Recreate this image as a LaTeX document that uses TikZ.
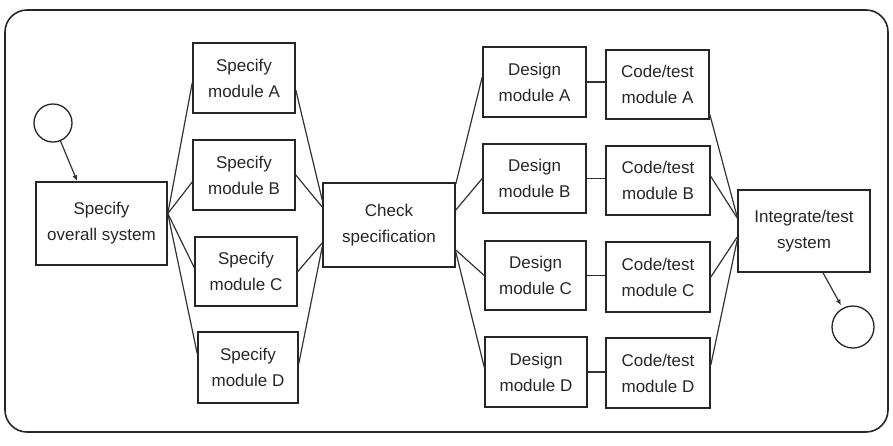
\documentclass[tikz,border=0pt]{standalone}
\usepackage{fontspec}
\setmainfont{Liberation Sans}
\usetikzlibrary{arrows.meta}
\begin{document}
\begin{tikzpicture}[x=1pt,y=-1pt,
  every node/.style={font=\fontsize{17}{26}\selectfont, text=black!85},
  task/.style={draw=black!85, line width=1.6pt, rectangle, align=center, inner sep=0pt},
  terminal/.style={draw=black!85, line width=1.3pt, circle, inner sep=0pt},
  link/.style={draw=black!80, line width=1.2pt},
  flow/.style={link, -{Latex[length=6pt,width=5pt]}}
]
\useasboundingbox (0,0) rectangle (893,445);
% outer frame
\draw[black!85, line width=1.6pt, rounded corners=22pt] (5,10) rectangle (888,432);

% start and end states
\node[terminal, minimum size=38pt] (start) at (53,123) {};
\node[terminal, minimum size=42pt] (stop) at (853,327) {};

% specification stage
\node[task, minimum width=131pt, minimum height=83pt] (ov) at (101.5,223.5) {Specify\\overall system};
\node[task, minimum width=102pt, minimum height=70pt] (sA) at (244,78) {Specify\\module A};
\node[task, minimum width=102pt, minimum height=70pt] (sB) at (244,175) {Specify\\module B};
\node[task, minimum width=102pt, minimum height=69pt] (sC) at (246,271.5) {Specify\\module C};
\node[task, minimum width=100pt, minimum height=71pt] (sD) at (248,367.5) {Specify\\module D};
\node[task, minimum width=132pt, minimum height=84pt] (chk) at (389,225) {Check\\specification};

% design and coding stage
\node[task, minimum width=103pt, minimum height=70pt] (dA) at (534.5,82) {Design\\module A};
\node[task, minimum width=103pt, minimum height=69pt] (dB) at (534.5,178.5) {Design\\module B};
\node[task, minimum width=101pt, minimum height=69pt] (dC) at (535.5,275.5) {Design\\module C};
\node[task, minimum width=102pt, minimum height=70pt] (dD) at (536,372) {Design\\module D};
\node[task, minimum width=103pt, minimum height=69pt] (cA) at (657.5,84.5) {Code/test\\module A};
\node[task, minimum width=104pt, minimum height=69pt] (cB) at (658,180.5) {Code/test\\module B};
\node[task, minimum width=104pt, minimum height=70pt] (cC) at (658,277) {Code/test\\module C};
\node[task, minimum width=104pt, minimum height=70pt] (cD) at (658,373) {Code/test\\module D};
\node[task, minimum width=132pt, minimum height=82pt] (int) at (804,231) {Integrate/test\\system};

% entry arrow
\draw[flow] (start) -- ([xshift=42pt]ov.north west);

% fan-out to module specifications
\draw[link] ([yshift=10pt]ov.east) -- ([yshift=-5pt]sA.west);
\draw[link] ([yshift=10pt]ov.east) -- ([yshift=-7pt]sB.west);
\draw[link] ([yshift=10pt]ov.east) -- ([yshift=4pt]sC.west);
\draw[link] ([yshift=10pt]ov.east) -- ([yshift=14pt]sD.west);

% fan-in to specification check
\draw[link] ([yshift=-12pt]sA.east) -- ([yshift=25pt]chk.west);
\draw[link] (sB.east) -- ([yshift=18pt]chk.west);
\draw[link] (sC.east) -- ([yshift=-18pt]chk.west);
\draw[link] ([yshift=4pt]sD.east) -- ([yshift=-22pt]chk.west);

% fan-out to module designs
\draw[link] ([yshift=41pt]chk.east) -- ([yshift=5pt]dA.west);
\draw[link] ([yshift=15pt]chk.east) -- (dB.west);
\draw[link] ([yshift=-25pt]chk.east) -- (dC.west);
\draw[link] ([yshift=-27pt]chk.east) -- ([yshift=5pt]dD.west);

% design to code/test
\draw[link] (dA.east) -- (dA.east -| cA.west);
\draw[link] (dB.east) -- (dB.east -| cB.west);
\draw[link] (dC.east) -- (dC.east -| cC.west);
\draw[link] (dD.east) -- (dD.east -| cD.west);

% fan-in to integration
\draw[link] ([yshift=-30pt]cA.east) -- ([yshift=14pt]int.west);
\draw[link] ([yshift=4pt]cB.east) -- ([yshift=13pt]int.west);
\draw[link] (cC.east) -- ([yshift=-6pt]int.west);
\draw[link] ([yshift=8pt]cD.east) -- ([yshift=-9pt]int.west);

% exit arrow
\draw[flow, shorten >=3pt] ([xshift=19pt]int.south) -- (stop);
\end{tikzpicture}
\end{document}
